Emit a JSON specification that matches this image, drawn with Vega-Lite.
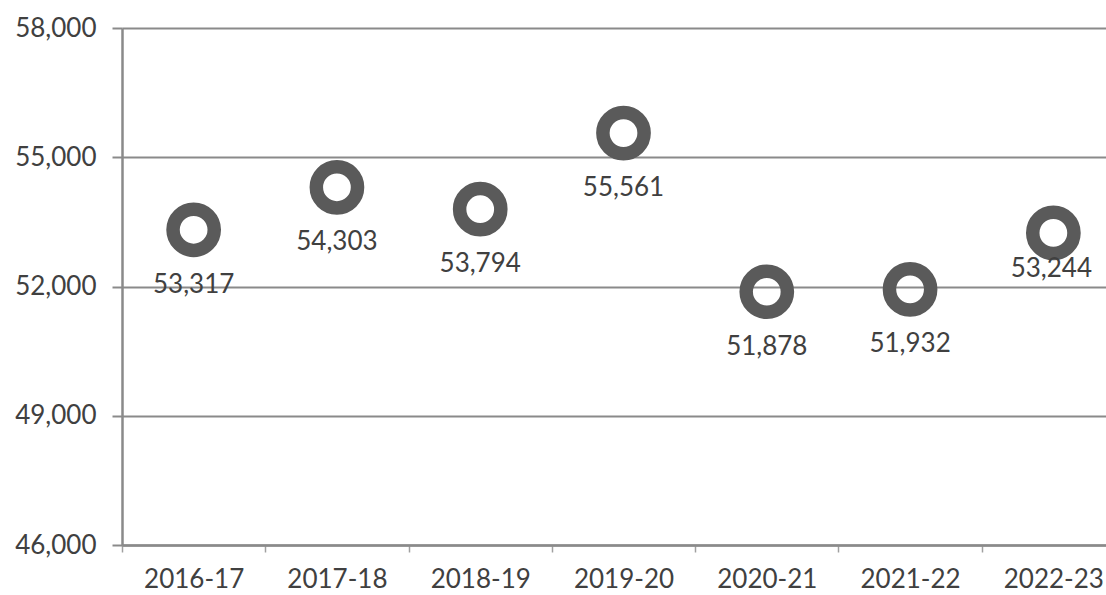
{
  "$schema": "https://vega.github.io/schema/vega-lite/v6.json",
  "autosize": "none",
  "width": 1003,
  "height": 517,
  "padding": {"left": 122, "top": 28, "right": 0, "bottom": 50},
  "background": "white",
  "config": {"view": {"stroke": null}, "font": "Lato"},
  "data": {"values": [
    {"year": "2016-17", "value": 53317},
    {"year": "2017-18", "value": 54303},
    {"year": "2018-19", "value": 53794},
    {"year": "2019-20", "value": 55561},
    {"year": "2020-21", "value": 51878},
    {"year": "2021-22", "value": 51932},
    {"year": "2022-23", "value": 53244}
  ]},
  "encoding": {
    "x": {"field": "year", "type": "ordinal", "title": null,
      "scale": {"paddingInner": 0, "paddingOuter": 0},
      "axis": {"labelAngle": 0, "labelFont": "Lato", "labelFontSize": 26, "labelColor": "#404040",
        "labelPadding": 14, "tickSize": 7, "tickColor": "#a0a0a0", "tickWidth": 1.5, "tickBand": "extent",
        "domainColor": "#8a8a8a", "domainWidth": 2.5, "grid": false}},
    "y": {"field": "value", "type": "quantitative", "title": null,
      "scale": {"domain": [46000, 58000], "nice": false, "zero": false},
      "axis": {"values": [46000, 49000, 52000, 55000, 58000], "format": ",.0f", "labelFont": "Lato",
        "labelFontSize": 26, "labelColor": "#404040", "labelPadding": 16, "tickSize": 10,
        "tickColor": "#8a8a8a", "tickWidth": 2, "domainColor": "#8a8a8a", "domainWidth": 2.5,
        "grid": true, "gridColor": "#8a8a8a", "gridWidth": 2}}
  },
  "layer": [
    {"mark": {"type": "point", "shape": "circle", "filled": false, "stroke": "#5a5a5a", "strokeWidth": 13.5, "size": 1700, "opacity": 1}},
    {"transform": [{"filter": "datum.year != '2022-23'"}],
      "mark": {"type": "text", "dy": 55, "baseline": "middle", "fontSize": 26, "font": "Lato", "color": "#404040"},
      "encoding": {"text": {"field": "value", "type": "quantitative", "format": ",.0f"}}},
    {"transform": [{"filter": "datum.year == '2022-23'"}],
      "mark": {"type": "text", "dy": 36, "dx": -2, "baseline": "middle", "fontSize": 26, "font": "Lato", "color": "#404040"},
      "encoding": {"text": {"field": "value", "type": "quantitative", "format": ",.0f"}}}
  ]
}
